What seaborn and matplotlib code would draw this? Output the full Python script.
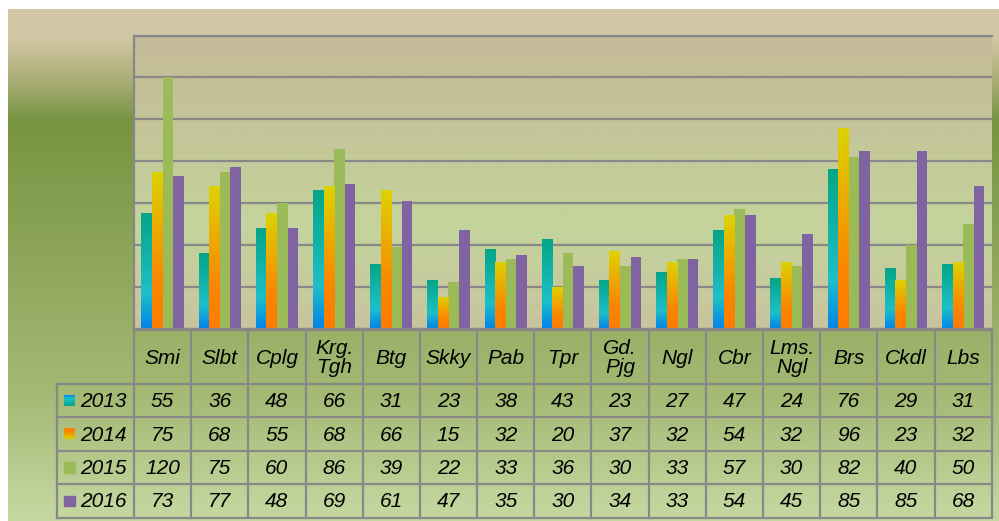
import numpy as np
import pandas as pd
import seaborn as sns
import matplotlib.pyplot as plt
from matplotlib.colors import LinearSegmentedColormap, to_rgb

categories = ["Smi", "Slbt", "Cplg", "Krg.\nTgh", "Btg", "Skky", "Pab", "Tpr",
              "Gd.\nPjg", "Ngl", "Cbr", "Lms.\nNgl", "Brs", "Ckdl", "Lbs"]
years = ["2013", "2014", "2015", "2016"]
v2013 = [55, 36, 48, 66, 31, 23, 38, 43, 23, 27, 47, 24, 76, 29, 31]
v2014 = [75, 68, 55, 68, 66, 15, 32, 20, 37, 32, 54, 32, 96, 23, 32]
v2015 = [120, 75, 60, 86, 39, 22, 33, 36, 30, 33, 57, 30, 82, 40, 50]
v2016 = [73, 77, 48, 69, 61, 47, 35, 30, 34, 33, 54, 45, 85, 85, 68]
values = [v2013, v2014, v2015, v2016]

df = pd.DataFrame({
    "cat": categories * 4,
    "year": np.repeat(years, len(categories)),
    "value": v2013 + v2014 + v2015 + v2016,
})

W, H = 999, 521
grid_col = "#888888"
font = dict(family="Liberation Sans", style="italic", size=15, color="black")

# gradient helper: list of (pos, color), pos 0 = top
def vgrad(stops, n=256):
    pos = [p for p, c in stops]
    cols = np.array([to_rgb(c) for p, c in stops])
    t = np.linspace(0, 1, n)
    return np.stack([np.interp(t, pos, cols[:, i]) for i in range(3)], axis=-1)[:, None, :]

cmap13 = LinearSegmentedColormap.from_list("c13", [(0, "#0086EA"), (0.3, "#1EBFC8"), (1, "#04A586")])
cmap14 = LinearSegmentedColormap.from_list("c14", [(0, "#FF7C00"), (0.3, "#FA8600"), (1, "#DCD300")])
ramp = np.linspace(0, 1, 128)[:, None]

fig = plt.figure(figsize=(W / 100, H / 100), dpi=100)
fig.patch.set_facecolor("white")

# figure background
bg = fig.add_axes([8 / W, 0, 1 - 8 / W, 1 - 9 / H])
bg.imshow(vgrad([(0, "#D3C6A5"), (0.06, "#D1C5A3"), (0.14, "#A8AD74"), (0.217, "#779441"),
                 (0.47, "#8CA558"), (0.76, "#A4BA75"), (1, "#C6D8A2")]),
          aspect="auto", extent=(0, 1, 0, 1))
bg.axis("off")

# plot area
x0, x1 = 134, 991.7
ax = fig.add_axes([x0 / W, 1 - 328.5 / H, (x1 - x0) / W, (328.5 - 35.5) / H])
ax.patch.set_visible(False)
ax.imshow(vgrad([(0, "#C4BB98"), (0.3, "#C4C499"), (0.65, "#C4D49C"), (1, "#C8C49F")]),
          aspect="auto", extent=(-0.5, 14.5, 0, 140), zorder=0)

sns.barplot(data=df, x="cat", y="value", hue="year",
            palette=["#1EBFC8", "#FF8000", "#9BBB59", "#8064A2"],
            width=0.74, saturation=1, linewidth=0, legend=False, ax=ax)

for cont, cm in zip(ax.containers[:2], [cmap13, cmap14]):
    for p in cont.patches:
        x, w, h = p.get_x(), p.get_width(), p.get_height()
        im = ax.imshow(ramp, cmap=cm, origin="lower", aspect="auto",
                       extent=(x, x + w, 0, h), zorder=p.get_zorder() + 0.1)
        im.set_clip_path(p)

ax.set_xlim(-0.5, 14.5)
ax.set_ylim(0, 140)
ax.set_yticks(range(0, 141, 20))
ax.set_axisbelow(True)
ax.grid(axis="y", color=grid_col, lw=1.6)
ax.tick_params(length=0, labelleft=False, labelbottom=False)
ax.set_xlabel("")
ax.set_ylabel("")
for s in ["left", "top", "bottom"]:
    ax.spines[s].set_color(grid_col)
    ax.spines[s].set_linewidth(1.6)
ax.spines["right"].set_visible(False)

# data table
cw = (x1 - x0) / 15
lw_units = (x0 - 57) / cw
tx0 = -0.5 - lw_units
tax = fig.add_axes([57 / W, 1 - 517.5 / H, (x1 - 57) / W, (517.5 - 330) / H])
tax.set_xlim(tx0, 14.5)
tax.set_ylim(187.5, 0)
tax.axis("off")

hdr = 54
rh = (187.5 - hdr) / 4
lk = dict(color=grid_col, lw=1.6, clip_on=False)
tax.plot([-0.5, 14.5], [0, 0], **lk)
for k in range(16):
    tax.plot([-0.5 + k, -0.5 + k], [0, 187.5], **lk)
tax.plot([tx0, tx0], [hdr, 187.5], **lk)
for r in range(5):
    tax.plot([tx0, 14.5], [hdr + r * rh, hdr + r * rh], **lk)

for i, c in enumerate(categories):
    tax.text(i, hdr / 2 + 1, c, ha="center", va="center", linespacing=1.02, **font)

key_w = 10.5 / cw
key_x = tx0 + 7 / cw
solid = {2: "#9BBB59", 3: "#8064A2"}
for r, (yr, vals) in enumerate(zip(years, values)):
    yc = hdr + (r + 0.5) * rh
    if r < 2:
        tax.imshow(ramp, cmap=[cmap13, cmap14][r], origin="upper", aspect="auto",
                   extent=(key_x, key_x + key_w, yc + 5.25, yc - 5.25), zorder=2)
    else:
        tax.add_patch(plt.Rectangle((key_x, yc - 5.25), key_w, 10.5, color=solid[r], zorder=2))
    tax.text(tx0 + 23 / cw, yc + 1, yr, ha="left", va="center", **font)
    for i, v in enumerate(vals):
        tax.text(i, yc + 1, str(v), ha="center", va="center", **font)
tax.set_xlim(tx0, 14.5)
tax.set_ylim(187.5, 0)

plt.savefig("out.png", dpi=100)
